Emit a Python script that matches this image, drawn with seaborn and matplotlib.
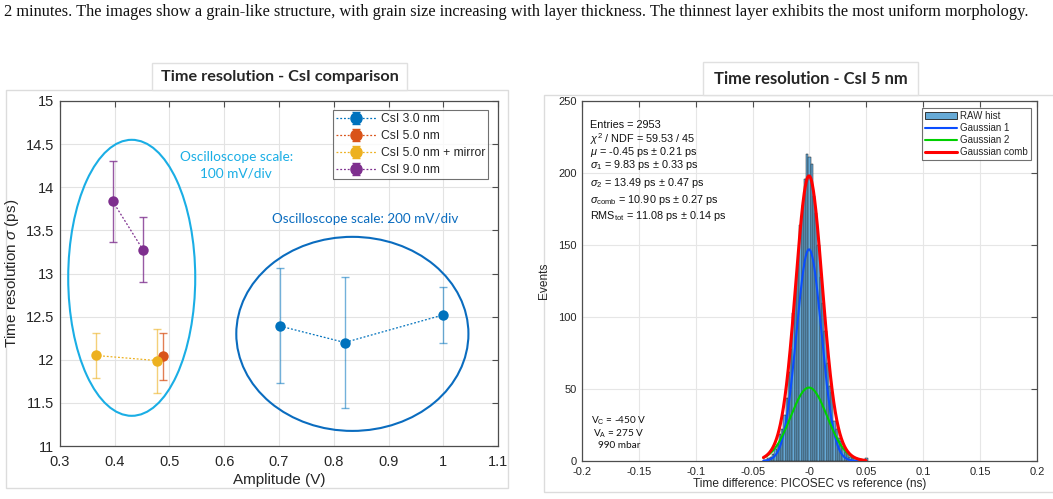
import numpy as np
import pandas as pd
import matplotlib
matplotlib.use("Agg")
import matplotlib.pyplot as plt
from matplotlib.patches import Ellipse, Rectangle, Patch
from matplotlib.lines import Line2D
from matplotlib.ticker import FuncFormatter
import seaborn as sns

# ---------------- data: left panel ----------------
series_names = ["CsI 3.0 nm", "CsI 5.0 nm", "CsI 5.0 nm + mirror", "CsI 9.0 nm"]
amp_csi3 = [0.702, 0.820, 1.000]
res_csi3 = [12.39, 12.20, 12.52]
lo_csi3 = [11.73, 11.44, 12.20]
hi_csi3 = [13.06, 12.96, 12.84]

amp_csi5 = [0.488]
res_csi5 = [12.04]
lo_csi5 = [11.76]
hi_csi5 = [12.31]

amp_csi5m = [0.365, 0.478]
res_csi5m = [12.05, 11.99]
lo_csi5m = [11.79, 11.62]
hi_csi5m = [12.31, 12.36]

amp_csi9 = [0.396, 0.452]
res_csi9 = [13.84, 13.27]
lo_csi9 = [13.37, 12.90]
hi_csi9 = [14.31, 13.65]

# ---------------- data: right panel ----------------
hist_start = -0.041   # ns, left edge of first bin
hist_binw = 0.002     # ns
hist_counts = [1, 1, 2, 3, 5, 8, 12, 19, 22, 32, 44, 62, 78, 103, 120, 137, 164, 178, 196, 213,
               211, 206, 184, 172, 150, 128, 110, 90, 68, 52, 48, 28, 22, 16, 14, 9, 6, 6, 3, 2,
               1, 1, 0, 1, 0, 2]
fit_mu = -0.00045      # ns
fit_amp1, fit_sig1 = 147.0, 0.0110
fit_amp2, fit_sig2 = 51.0, 0.0160
fit_range = (-0.0405, 0.0495)

stats_lines = [
    "Entries = 2953",
    r"$\chi^2$ / NDF = 59.53 / 45",
    r"$\mu$ = -0.45 ps $\pm$ 0.21 ps",
    r"$\sigma_1$ = 9.83 ps $\pm$ 0.33 ps",
    r"$\sigma_2$ = 13.49 ps $\pm$ 0.47 ps",
    r"$\sigma_{\rm comb}$ = 10.90 ps $\pm$ 0.27 ps",
    r"RMS$_{\rm tot}$ = 11.08 ps $\pm$ 0.14 ps",
]
cond_lines = [r"V$_{\rm C}$ = -450 V", r"V$_{\rm A}$ = 275 V", "990 mbar"]

caption = ("2 minutes. The images show a grain-like structure, with grain size increasing with layer "
           "thickness. The thinnest layer exhibits the most uniform morphology.")

# ---------------- style ----------------
sns.set_theme(style="whitegrid")
plt.rcParams["font.family"] = ["Liberation Sans", "DejaVu Sans"]
plt.rcParams["mathtext.fontset"] = "custom"
plt.rcParams["mathtext.rm"] = "Liberation Sans"
plt.rcParams["mathtext.it"] = "Liberation Sans:italic"
plt.rcParams["mathtext.bf"] = "Liberation Sans:bold"

W, H = 1053, 499
fig = plt.figure(figsize=(W / 100, H / 100), dpi=100)
fig.patch.set_facecolor("white")


def fx(x):
    return x / W


def fy(y):
    return 1 - y / H


def frame_rect(x0, y0, x1, y1, fc="none", ec="#dcdcdc", z=0):
    r = Rectangle((fx(x0), fy(y1)), fx(x1 - x0), (y1 - y0) / H, transform=fig.transFigure,
                  facecolor=fc, edgecolor=ec, linewidth=1.0, zorder=z)
    fig.add_artist(r)


# caption line
fig.text(fx(4), fy(12), caption, family=["Liberation Serif"], fontsize=11.8, va="center",
         ha="left", color="#111111")

# panel frames
frame_rect(6, 90, 508, 488)
frame_rect(544, 95, 1060, 492)
frame_rect(152, 63, 407, 90, fc="white", ec="#e0e0e0", z=3)
frame_rect(703, 62, 918, 95, fc="white", ec="#e0e0e0", z=3)
fig.text(fx(279.5), fy(77), "Time resolution - CsI comparison", family=["Lato", "DejaVu Sans"],
         fontweight="bold", fontsize=11.7, ha="center", va="center", zorder=4)
fig.text(fx(810.5), fy(78.5), "Time resolution - CsI 5 nm", family=["Lato", "DejaVu Sans"],
         fontweight="bold", fontsize=12, ha="center", va="center", zorder=4)

axis_col = "#4d4d4d"

# ---------------- left panel ----------------
ax1 = fig.add_axes([fx(60), fy(446), fx(438), 345 / H])
ax1.set_facecolor("white")
colors = ["#0072BD", "#D95319", "#EDB120", "#7E2F8E"]
series = [
    (amp_csi3, res_csi3, lo_csi3, hi_csi3),
    (amp_csi5, res_csi5, lo_csi5, hi_csi5),
    (amp_csi5m, res_csi5m, lo_csi5m, hi_csi5m),
    (amp_csi9, res_csi9, lo_csi9, hi_csi9),
]
ealpha = [0.55, 0.75, 0.6, 0.8]
handles = []
for name, col, ea, (xs, ys, lo, hi) in zip(series_names, colors, ealpha, series):
    xs = np.array(xs); ys = np.array(ys)
    yerr = np.vstack([ys - np.array(lo), np.array(hi) - ys])
    ax1.errorbar(xs, ys, yerr=yerr, fmt="none", ecolor=col, alpha=ea, elinewidth=1.0,
                 capsize=3.2, capthick=1.0, zorder=3)
    df = pd.DataFrame({"amp": xs, "res": ys})
    sns.lineplot(data=df, x="amp", y="res", ax=ax1, color=col, linestyle=(0, (1.5, 1.5)),
                 linewidth=0.9, marker="o", markersize=7.5, markeredgewidth=0, sort=False,
                 zorder=4, legend=False)
    h = ax1.errorbar([np.nan], [np.nan], yerr=[[0.1], [0.1]], fmt="o", color=col,
                     markersize=8, linestyle=(0, (1.5, 1.5)), linewidth=0.9,
                     elinewidth=1.0, capsize=3.2, label=name)
    handles.append(h)

ax1.add_patch(Ellipse((0.431, 12.95), 0.232, 3.20, fill=False, edgecolor="#1AAEE5",
                      linewidth=1.5, zorder=2))
ax1.add_patch(Ellipse((0.834, 12.30), 0.424, 2.25, fill=False, edgecolor="#0A6CBF",
                      linewidth=1.5, zorder=2))
ax1.text(0.622, 14.354, "Oscilloscope scale:", color="#1AAEE5", family=["Lato", "DejaVu Sans"],
         fontsize=9.8, ha="center", va="center")
ax1.text(0.622, 14.16, "100 mV/div", color="#1AAEE5", family=["Lato", "DejaVu Sans"],
         fontsize=9.8, ha="center", va="center")
ax1.text(0.858, 13.63, "Oscilloscope scale: 200 mV/div", color="#0A6CBF",
         family=["Lato", "DejaVu Sans"], fontsize=9.7, ha="center", va="center")

ax1.set_xlim(0.3, 1.1)
ax1.set_ylim(11, 15)
ax1.set_xticks(np.arange(0.3, 1.11, 0.1))
ax1.set_yticks(np.arange(11, 15.01, 0.5))
gfmt = FuncFormatter(lambda v, p: f"{round(v, 3):g}")
ax1.xaxis.set_major_formatter(gfmt)
ax1.yaxis.set_major_formatter(gfmt)
ax1.set_xlabel("Amplitude (V)", fontsize=11, color="#262626", labelpad=3)
ax1.set_ylabel(r"Time resolution $\sigma$ (ps)", fontsize=11, color="#262626", labelpad=4)
ax1.tick_params(direction="in", length=4, width=0.8, colors=axis_col, labelcolor="#262626",
                labelsize=10.5, top=True, right=True)
ax1.tick_params(axis="x", pad=6.5)
ax1.tick_params(axis="y", pad=4)
ax1.grid(True, color="#e3e3e3", linewidth=0.8)
for s in ax1.spines.values():
    s.set_color(axis_col); s.set_linewidth(0.9)
leg1 = ax1.legend(handles=handles, loc="upper right", bbox_to_anchor=(0.978, 0.974),
                  fontsize=8.7, frameon=True, fancybox=False, edgecolor="#4d4d4d",
                  handlelength=3.4, handletextpad=0.3, borderpad=0.28, labelspacing=0.4,
                  borderaxespad=0)
leg1.get_frame().set_linewidth(0.8)

# ---------------- right panel ----------------
ax2 = fig.add_axes([fx(582), fy(461), fx(455), 360 / H])
ax2.set_facecolor("white")
nb = len(hist_counts)
edges = hist_start + hist_binw * np.arange(nb + 1)
centers = 0.5 * (edges[:-1] + edges[1:])
hdf = pd.DataFrame({"t": centers, "n": np.asarray(hist_counts, dtype=float)})
sns.histplot(data=hdf, x="t", weights="n", bins=nb, binrange=(edges[0], edges[-1]), ax=ax2,
             color="#66AAD7", edgecolor="#1c1c1c", linewidth=0.35, alpha=1.0, zorder=2)
xg = np.linspace(fit_range[0], fit_range[1], 400)
g1 = fit_amp1 * np.exp(-0.5 * ((xg - fit_mu) / fit_sig1) ** 2)
g2 = fit_amp2 * np.exp(-0.5 * ((xg - fit_mu) / fit_sig2) ** 2)
ax2.plot(xg, g1, color="#0A4DFF", linewidth=1.5, zorder=4)
ax2.plot(xg, g2, color="#00D000", linewidth=1.5, zorder=4)
ax2.plot(xg, g1 + g2, color="#FF0000", linewidth=2.2, zorder=5)

ax2.set_xlim(-0.2, 0.2)
ax2.set_ylim(0, 250)
ax2.set_xticks(np.arange(-0.2, 0.201, 0.05))
ax2.set_yticks(np.arange(0, 251, 50))
ax2.xaxis.set_major_formatter(FuncFormatter(lambda v, p: f"{round(v, 3):g}"))
ax2.set_xlabel("Time difference: PICOSEC vs reference (ns)", fontsize=8.6, color="#262626",
               labelpad=1)
ax2.set_ylabel("Events", fontsize=8.6, color="#262626", labelpad=6)
ax2.tick_params(direction="in", length=4, width=0.8, colors=axis_col, labelcolor="#262626",
                labelsize=8, top=True, right=True)
ax2.tick_params(axis="x", pad=4)
ax2.tick_params(axis="y", pad=3.8)
ax2.grid(True, color="#e6e6e6", linewidth=0.8)
for s in ax2.spines.values():
    s.set_color(axis_col); s.set_linewidth(0.9)

ys_stats = [0.926, 0.884, 0.849, 0.813, 0.765, 0.7175, 0.671]
for t, yy in zip(stats_lines, ys_stats):
    ax2.text(0.0176, yy, t, transform=ax2.transAxes, fontsize=7.8, ha="left", va="baseline",
             color="#111111")
for t, yy in zip(cond_lines, [0.112, 0.076, 0.0425]):
    ax2.text(0.081, yy, t, transform=ax2.transAxes, fontsize=7.2, ha="center", va="center",
             family=["Lato", "DejaVu Sans"], color="#111111")

leg_handles = [Patch(facecolor="#66AAD7", edgecolor="#1c1c1c", linewidth=0.6),
               Line2D([], [], color="#0A4DFF", linewidth=1.5),
               Line2D([], [], color="#00D000", linewidth=1.5),
               Line2D([], [], color="#FF0000", linewidth=2.2)]
leg2 = ax2.legend(leg_handles, ["RAW hist", "Gaussian 1", "Gaussian 2", "Gaussian comb"],
                  loc="upper right", bbox_to_anchor=(0.987, 0.981), fontsize=7.0, frameon=True,
                  fancybox=False, edgecolor="#4d4d4d", handlelength=3.3, handletextpad=0.3,
                  borderpad=0.35, labelspacing=0.2, borderaxespad=0)
leg2.get_frame().set_linewidth(0.8)

fig.savefig("out.png", dpi=100, facecolor="white")
